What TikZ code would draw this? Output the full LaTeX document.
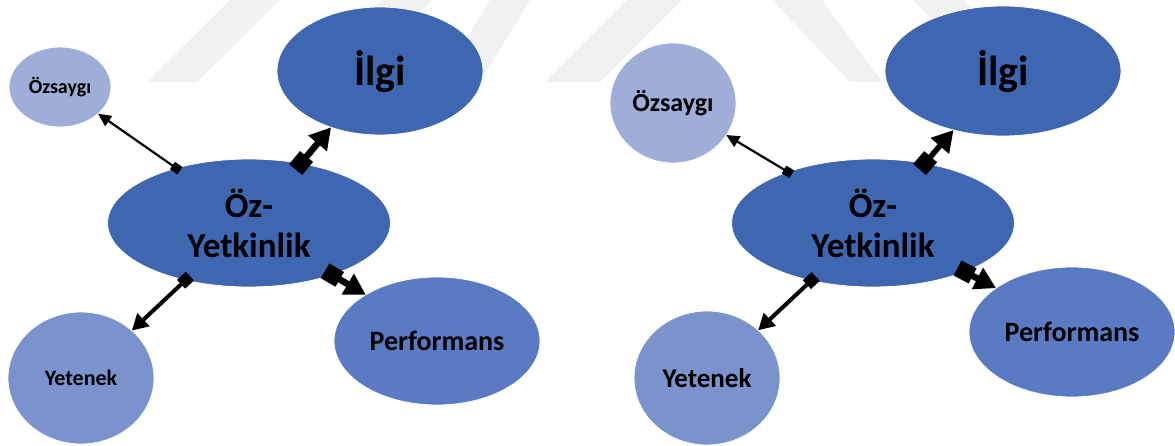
\documentclass[tikz,border=0pt]{standalone}
\usepackage{fontspec}
\setmainfont{Carlito}
\usetikzlibrary{arrows.meta,shapes.geometric}
\definecolor{darkblue}{HTML}{3F66B0}
\definecolor{midblue}{HTML}{5A7BC4}
\definecolor{softblue}{HTML}{7A93CD}
\definecolor{paleblue}{HTML}{9EAED9}
\definecolor{wmark}{gray}{0.945}
\tikzset{
  bubble/.style={ellipse, draw=white, line width=0.8pt, inner sep=0pt, outer sep=0pt, align=center, font=\bfseries, text=black},
  fs/.style={font=\bfseries\fontsize{#1}{#1}\selectfont},
  thinlink/.style={line width=2.2pt, {Square[length=9pt,width=9pt]}-{Triangle[length=13pt,width=12pt]}, shorten <=-4.5pt},
  medlink/.style={line width=4pt, {Square[length=12pt,width=12pt]}-{Triangle[length=16pt,width=17pt]}, shorten <=-6pt},
  thicklink/.style={line width=6.5pt, {Square[length=17pt,width=17pt]}-{Triangle[length=21pt,width=23pt]}, shorten <=-8pt},
}
\begin{document}
\begin{tikzpicture}[x=1pt,y=-1pt]
\useasboundingbox (0,0) rectangle (1175,446);
\fill[white] (0,0) rectangle (1175,446);
% watermark
\fill[wmark] (147,82) -- (197,82) -- (280,0) -- (230,0) -- cycle;
\fill[wmark] (300,82) -- (350,82) -- (432,0) -- (382,0) -- cycle;
\fill[wmark] (440,82) -- (480,82) -- (530,0) -- (490,0) -- cycle;
\fill[wmark] (545,82) -- (600,82) -- (682,0) -- (627,0) -- cycle;
\fill[wmark] (772,0) -- (822,0) -- (882,82) -- (850,82) -- cycle;
\fill[wmark] (913,0) -- (963,0) -- (1045,82) -- (995,82) -- cycle;

% ---------- left diagram ----------
\node[bubble, fill=darkblue, minimum width=238pt, minimum height=128pt, fs=35, text width=200pt] (c1) at (249,223) {Öz-\\[5pt]Yetkinlik};
\node[bubble, fill=paleblue, minimum width=102pt, minimum height=80pt, fs=20] (oz1) at (60,87) {Özsaygı};
\node[bubble, fill=darkblue, minimum width=206pt, minimum height=128pt, fs=42] (il1) at (380,71) {İlgi};
\node[bubble, fill=softblue, minimum width=146pt, minimum height=132pt, fs=22] (ye1) at (81,378) {Yetenek};
\node[bubble, fill=midblue, minimum width=206pt, minimum height=128pt, fs=28] (pe1) at (437,341) {Performans};

\draw[thinlink] (c1.143.6) -- (oz1.-35);
\draw[thicklink] (c1.49.8) -- (il1.229.7);
\draw[thicklink] (c1.-32) -- (pe1.147.4);
\draw[medlink] (c1.222.1) -- (ye1.43.3);

% ---------- right diagram ----------
\node[bubble, fill=darkblue, minimum width=240pt, minimum height=128pt, fs=35, text width=200pt] (c2) at (873,223) {Öz-\\[5pt]Yetkinlik};
\node[bubble, fill=paleblue, minimum width=126pt, minimum height=120pt, fs=26] (oz2) at (673,103) {Özsaygı};
\node[bubble, fill=darkblue, minimum width=236pt, minimum height=130pt, fs=42] (il2) at (1003,71) {İlgi};
\node[bubble, fill=softblue, minimum width=146pt, minimum height=134pt, fs=27] (ye2) at (707,378) {Yetenek};
\node[bubble, fill=midblue, minimum width=206pt, minimum height=130pt, fs=28] (pe2) at (1072,332) {Performans};

\draw[thinlink] (c2.149) -- (oz2.-31);
\draw[thicklink, line width=5.5pt] (c2.49.7) -- (il2.230);
\draw[thicklink] (c2.-28.2) -- (pe2.150.6);
\draw[medlink] (c2.223) -- (ye2.43.3);
\end{tikzpicture}
\end{document}
